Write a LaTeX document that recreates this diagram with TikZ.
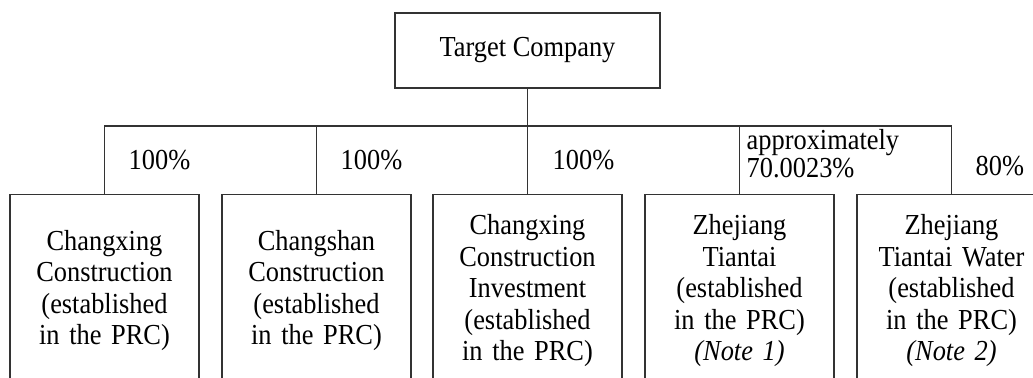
\documentclass[tikz,border=0pt]{standalone}
\usepackage{fontspec}
\setmainfont{Liberation Serif}[FakeStretch=0.91]
\begin{document}
\begin{tikzpicture}[x=0.5pt,y=-0.5pt,line width=0.7pt,font=\fontsize{14.5}{15.75}\selectfont,
		company/.style={draw=black!80,rectangle,inner sep=0pt,minimum width=132.5pt,minimum height=37.5pt},
		subsidiary/.style={draw=black!80,rectangle,anchor=north,inner sep=0pt,text width=94.5pt,align=center,minimum height=96pt},
		share/.style={anchor=base west,inner sep=0pt}]
	\useasboundingbox (0,0) rectangle (1033,378);
	\clip (0,0) rectangle (1033,378);
	\node[company] (T) at (527.5,50.5) {Target Company};
	\node[subsidiary] (S1) at (104.5,194) {Changxing\\Construction\\(established\\in the PRC)};
	\node[subsidiary] (S2) at (316.5,194) {Changshan\\Construction\\(established\\in the PRC)};
	\node[subsidiary] (S3) at (527.5,194) {Changxing\\Construction\\Investment\\(established\\in the PRC)};
	\node[subsidiary] (S4) at (739.5,194) {Zhejiang\\Tiantai\\(established\\in the PRC)\\\textit{(Note 1)}};
	\node[subsidiary] (S5) at (951.5,194) {Zhejiang\\Tiantai Water\\(established\\in the PRC)\\\textit{(Note 2)}};
	\coordinate (bus) at (527.5,126);
	\draw[black!80] (T) -- (S3.north);
	\draw[black!80] (S1.north) -- (S1.north |- bus) -- (S5.north |- bus) -- (S5.north);
	\foreach \s in {S2,S4} \draw[black!80] (\s.north) -- (\s.north |- bus);
	\node[share] (P1) at (128,170) {100\%};
	\node[share] (P2) at (340,170) {100\%};
	\node[share] (P3) at (552,170) {100\%};
	\node[share,align=left,font=\fontsize{14.5}{14}\selectfont] (P4) at (746,178) {approximately\\70.0023\%};
	\node[share] (P5) at (975,176) {80\%};
\end{tikzpicture}
\end{document}
